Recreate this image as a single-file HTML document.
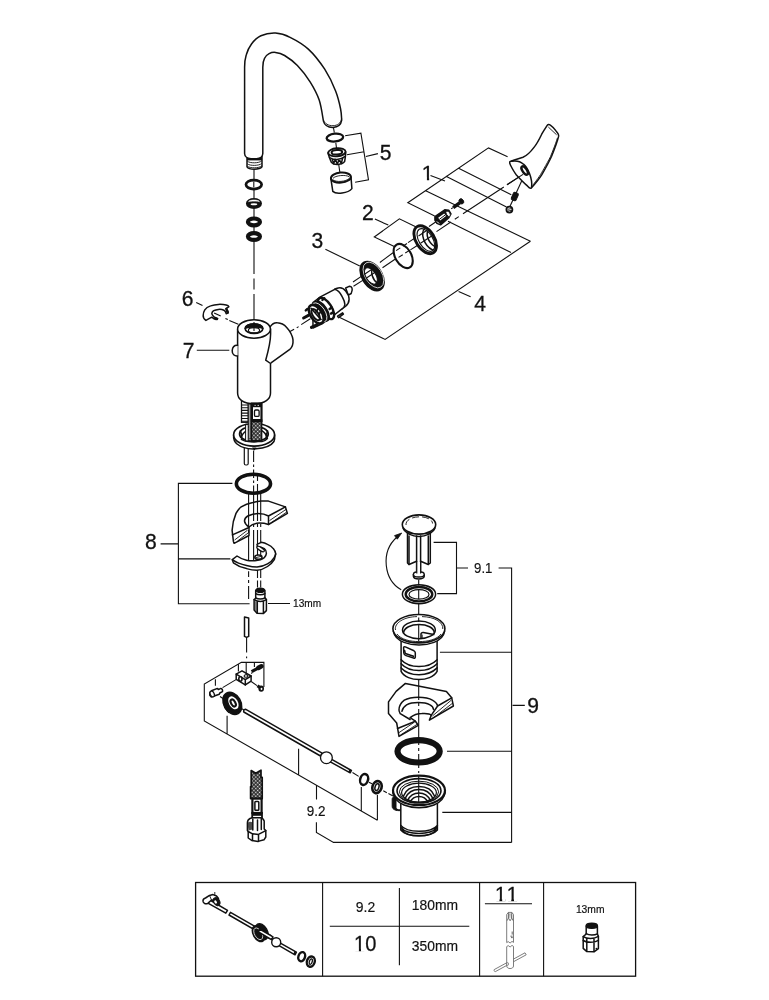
<!DOCTYPE html>
<html lang="en">
<head>
<meta charset="utf-8">
<title>Exploded view</title>
<style>
html,body{margin:0;padding:0;background:#fff;}
body{width:769px;height:1000px;overflow:hidden;position:relative;}
svg{position:absolute;left:0;top:0;display:block;will-change:transform;}
text{font-family:"Liberation Sans",sans-serif;fill:#111;}
text{stroke:#111;stroke-width:0.18px;}
text.big{stroke:#111;stroke-width:0.3px;}
.l{stroke:#111;stroke-width:1.1;fill:none;}
.p{stroke:#111;stroke-width:1.5;fill:#fff;stroke-linejoin:round;stroke-linecap:round;}
.pn{stroke:#111;stroke-width:1.5;fill:none;stroke-linejoin:round;stroke-linecap:round;}
.t{stroke:#111;stroke-width:0.9;fill:none;}
.k{fill:#111;stroke:#111;stroke-width:1;}
.ax{stroke:#111;stroke-width:1;fill:none;stroke-dasharray:26 3 3 3;}
</style>
</head>
<body>
<svg width="769" height="1000" viewBox="0 0 769 1000">
<defs>
<pattern id="braid" width="2.7" height="2.7" patternUnits="userSpaceOnUse" patternTransform="rotate(45)">
<rect width="2.7" height="2.7" fill="#111"/>
<rect x="0.6" y="0.6" width="1.55" height="1.55" fill="#fff"/>
</pattern>
</defs>

<!-- ===== LEADER LINES ===== -->
<g id="leaders" class="l">
<!-- 5 -->
<path d="M345.1 135.7L360.9 133.1L368.5 179.9L355.1 182.2M346.9 154.7L364.1 151.8M365.9 156.5L377.9 153.6"/>
<!-- 1 -->
<path d="M434.7 216.1L407.8 202.7L488.5 147.9L507.6 156.8M458.6 168.3L511.3 194.7M446 176.3L506.5 207M425.7 190.7L530.4 241.2M430.5 175.4L445 181"/>
<!-- 4 -->
<path d="M530.4 241.2L385.1 339.4L337.2 316.2M448 221.2L511 252.6M458.6 291.4L470.6 296.8"/>
<!-- 2 -->
<path d="M374.9 219.1L388.3 225.1M394.3 246.6L374.3 237L399.4 218.8L416.7 227.2"/>
<!-- 3 -->
<path d="M325.4 249.3L359.8 265.9"/>
<!-- 6,7 -->
<path d="M196.2 302.5L202.5 305.6"/>
<path d="M196.8 350.2H229.3"/>
<!-- 8 -->
<path d="M232.4 483.4H178.4V603.8H249.6M178.4 558.9H230.4M160.6 543.9H178.4M268 603.5H290"/>
<!-- 9.2 -->
<path d="M263.9 687V662.4H241.4L204.3 684.1V720.9L377.4 820.2M238.4 664.3V671.5M254.4 663V667M215.4 679.3V685.8M227.1 715.7V734M298.6 748.8V775M361.3 787V811M377.4 795V820.2M316.5 785.5V799.6M316.4 822.2V832.4L333.5 842.4H511.6"/>
<!-- 9 -->
<path d="M498.6 568H511.6V842.4M439.9 652.3H511.6M447 751.2H511.6M442.3 812.4H511.6M512.6 705.4H524.8"/>
<!-- 9.1 -->
<path d="M433.6 542.4H456.5V593.6H437.2M456.5 568H468"/>
</g>

<!-- ===== AXIS LINES ===== -->
<g id="axes">
<path class="l" d="M254 169.5V180M254 189.5V198M254 208.5V217M254 226.5V232M254 241.5V273.9M254 278.5V289.5M254 294V322"/>
<path class="l" d="M523 174.4L507 184.8M503.8 187L463 213.8M458.8 216.6L454.8 219.3M450.8 222L436.5 231.6M310.3 318.8L301.2 324.6M298.6 326.6L296.7 327.9M294.1 329.2L289.5 331.8"/>

<path class="l" d="M246.6 637.4V652.4M246.6 656.6V658.2"/>
</g>

<!-- ===== PARTS ===== -->
<g id="parts">

<!-- spout -->
<g id="spout">
<path class="p" stroke-width="1.8" d="M247 155V166.8C249 170 259.5 170 262 166.8V155Z"/>
<path class="t" stroke-width="1.7" d="M247.3 161.2C250 163.4 259 163.4 261.8 160.8M247.3 163.8C250 166 259 166 261.8 163.4M247.3 166.2C250 168.4 259 168.4 261.8 165.8"/>
<path d="M247 157H262V160.4H247Z" fill="#111"/>
<path class="p" d="M244.6 153.6V67.3C244.6 63.1 245.0 58.9 246.2 55.0C247.3 51.1 249.1 47.2 251.5 44.0C253.9 40.8 256.9 37.6 260.9 35.8C264.9 34.0 270.6 32.9 275.5 33.1C280.4 33.4 284.6 34.6 290.1 37.3C295.6 40.0 302.5 43.8 308.3 49.1C314.1 54.4 320.1 62.2 324.7 69.2C329.2 76.2 333.0 84.4 335.6 91.0C338.2 97.6 339.6 104.1 340.6 109.0C341.6 113.9 341.5 118.3 341.7 120.2C341 124.6 337.5 127.3 333 127.4C328 127.5 324.5 125 323.5 121.4C322.8 117.9 321.4 106.7 319.2 100.1C317.0 93.5 313.7 87.7 310.1 81.9C306.5 76.1 301.6 69.9 297.4 65.5C293.1 61.1 288.2 57.7 284.6 55.5C281.0 53.3 278.1 52.7 275.5 52.4C272.9 52.1 270.9 52.7 269.1 53.7C267.3 54.7 265.7 55.9 264.6 58.2C263.4 60.5 262.8 63.7 262.8 67.3V153.6C262.8 156.6 260 158.6 256.5 158.8H251C247.5 158.6 244.6 156.6 244.6 153.6Z"/>
<path class="t" stroke-width="1.1" d="M323.4 119.8C324.5 123.6 328.5 125.8 333 125.7C337.5 125.6 341 123 341.6 118.6"/>
</g>
<!-- spout rings -->
<g id="srings">
<ellipse cx="253.8" cy="184.55" rx="7.85" ry="4.5" fill="#fff" stroke="#111" stroke-width="2.7"/>
<ellipse cx="253.95" cy="203.45" rx="7.1" ry="4.5" fill="#111" stroke="#111" stroke-width="1.9"/>
<path d="M248.6 201.6C250 199.6 258 199.6 259.4 201.6C258 200.9 250 200.9 248.6 201.6Z" fill="#fff" stroke="#fff" stroke-width="0.7"/>
<ellipse cx="253.95" cy="204.2" rx="3.3" ry="1" fill="#fff"/>
<ellipse cx="253.95" cy="221.9" rx="6" ry="3.4" fill="#fff" stroke="#111" stroke-width="4.2"/>
<ellipse cx="253.95" cy="236.55" rx="6" ry="3.4" fill="#fff" stroke="#111" stroke-width="4.2"/>
<path class="l" d="M253.8 181.6V187.6"/>
</g>
<!-- aerator -->
<g id="aer">
<path class="l" d="M333.5 127.8L334.3 132.5M335.8 142.8L336.5 148M338.8 165L339.8 172"/>
<ellipse cx="334.9" cy="137.6" rx="8.3" ry="3.9" transform="rotate(-6 334.9 137.6)" fill="#fff" stroke="#111" stroke-width="2.3"/>
<path class="p" stroke-width="1.7" d="M328.1 152.4C328.1 155 330.6 160.4 331.3 162.2C334 165.6 342 164.9 344.6 161.6C345 159.4 345.8 155 345.7 152"/>
<ellipse cx="336.9" cy="152.3" rx="8.7" ry="4" transform="rotate(-5 336.9 152.3)" fill="#fff" stroke="#111" stroke-width="1.9"/>
<ellipse cx="336.9" cy="152.3" rx="5.3" ry="2.2" transform="rotate(-5 336.9 152.3)" fill="#fff" stroke="#111" stroke-width="2"/>
<path class="pn" stroke-width="1.3" d="M329.5 157.5C333 160.5 341 160 344.8 156.6M332 158.6L333.6 163.5L335.4 159.2L337.3 164.2L339.2 159.2L341.3 163.6L342.6 158.2"/>
<path class="p" stroke-width="1.6" d="M330.8 178.1L332.8 191.4C336 194.6 348 193.4 351.9 188.6L351 177"/>
<ellipse cx="340.9" cy="177.6" rx="10" ry="5" transform="rotate(-5 340.9 177.6)" fill="#fff" stroke="#111" stroke-width="2"/>
<path class="t" stroke-width="1" d="M333 178.4C335 175.4 346 174.4 349.2 176.8M332.6 179.6C336 182.6 346 181.8 349.6 178.2"/>
</g>


<!-- handle -->
<g id="handle">
<path class="l" d="M521.9 180.4L509.8 206.8"/>
<path class="p" stroke-width="1.6" d="M509.8 161.7C514 159.5 519 158.6 523 157.3C528 155.3 534 147.4 534 147.4C537.5 143 541.7 134.2 541.7 134.2C543.5 131 547.2 125.4 547.2 125.4C548 124.3 549.2 124.3 550 124.9C552.5 126.5 556 130.9 556 130.9C557.5 132.5 559 134.5 558.6 136.4C557 143 551.6 156.2 551.6 156.2C548.5 163 541.7 174.9 541.7 174.9C538.5 180 531.3 188.1 531.3 188.1C530 189 528.5 187.2 527.4 185.9C523.5 182.5 516.4 174.9 516.4 174.9C514 172 510.4 165 510.4 165C509.8 163.8 509.5 162.5 509.8 161.7Z"/>
<path class="pn" stroke-width="1.4" d="M511.5 161.3C516 160.5 520.5 161.5 523.5 164.2C527 167 529.6 173.8 529.6 173.8C531 177.5 532.2 182 531.6 187"/>
<path class="t" d="M548.3 127L556.6 134.8M557.4 138C555.5 144.5 550.3 157 550.3 157C547 163.5 540.5 174.6 540.5 174.6C537.5 179.3 532.5 185.5 532.5 185.5"/>
<ellipse cx="524.7" cy="170.5" rx="2.2" ry="4.9" transform="rotate(-33 524.7 170.5)" fill="#fff" stroke="#111" stroke-width="2.4"/>
<path class="l" d="M523 174.4L507 184.8"/>
<!-- set screw + cap -->
<rect x="512.2" y="192.4" width="5.2" height="8.2" rx="1.6" transform="rotate(24 514.8 196.5)" fill="#111" stroke="#111" stroke-width="1"/>
<circle cx="509.4" cy="209.6" r="3" fill="#fff" stroke="#111" stroke-width="1.8"/>
<path class="t" d="M507.6 209.3L511.4 208.6M507.9 211L511.6 210.4"/>
</g>
<!-- screw + nut -->
<g id="screwnut">
<path d="M453.2 207.7L460 202.6" stroke="#111" stroke-width="3.5" fill="none"/>
<ellipse cx="461.4" cy="201.3" rx="2.1" ry="2.8" transform="rotate(-35 461.4 201.3)" fill="#111" stroke="#111" stroke-width="0.8"/>
<path class="l" d="M451.2 208.8L453 207.6M436 221.7L429 226.5"/>
<path d="M434.9 216.5L444.7 209.8L448.9 210.3L451 213.9L448.9 217.6L440.6 224.9L436.9 223.3L434.9 220.2Z" fill="#111" stroke="#111" stroke-width="1.4" stroke-linejoin="round"/>
<path d="M438.2 217.7L444.2 213.4L446 216L440.2 220.4Z" fill="#fff"/>
<path d="M439.4 219.3L445.2 215" stroke="#111" stroke-width="1"/>
<ellipse cx="448.2" cy="213.8" rx="1.7" ry="3" transform="rotate(-33 448.2 213.8)" fill="#fff" stroke="#111" stroke-width="0.8"/>
<path d="M436.6 221.6L439.4 223.4" stroke="#fff" stroke-width="0.8"/>
</g>
<!-- rings 2 / oring / 3 -->
<g id="rings23">
<path class="l" d="M416.1 237.3L408 242.6M417.7 245.2L410.4 249.9M393 252.7L379.9 262.5M395 259.2L382.5 267.7M361.7 276.1L353 282M364.3 279.4L353.5 286.3"/>
<path class="l" stroke-dasharray="5 3" d="M407 243.5L394 252M409.5 250.4L396 259"/>
<!-- ring2 -->
<ellipse cx="425.2" cy="239.7" rx="9.2" ry="15.4" transform="rotate(-32 425.2 239.7)" fill="#fff" stroke="#111" stroke-width="2.9"/>
<ellipse cx="425.9" cy="240" rx="6.9" ry="12.6" transform="rotate(-32 425.9 240)" fill="none" stroke="#111" stroke-width="1.1"/>
<path class="pn" stroke-width="1.3" d="M424.5 228.8C420.5 233 423.5 245.5 432.5 250M428.4 230.2C425.6 233.5 427.8 242 434.6 246.4"/>
<path class="l" d="M418.5 236L427 230.3M420.5 243.3L434 234.5"/>
<!-- oring -->
<ellipse cx="403.2" cy="256" rx="8" ry="13.2" transform="rotate(-30 403.2 256)" fill="none" stroke="#111" stroke-width="2.1"/>
<!-- ring3 -->
<ellipse cx="372.1" cy="276.1" rx="10" ry="16" transform="rotate(-32 372.1 276.1)" fill="#111" stroke="#111" stroke-width="1.6"/>
<ellipse cx="373.4" cy="275" rx="8.4" ry="14.2" transform="rotate(-32 373.4 275)" fill="none" stroke="#fff" stroke-width="0.7"/>
<ellipse cx="370.9" cy="275.9" rx="5" ry="9.2" transform="rotate(-32 370.9 275.9)" fill="#fff" stroke="#111" stroke-width="1"/>
<path class="pn" stroke-width="1.2" d="M372.5 268.5C370.5 272 372.5 280 377.6 283.2"/>
<path class="l" d="M364.5 274.3L373.5 268.2M366.5 278L377 271"/>
</g>


<!-- cartridge -->
<g id="cart">
<path class="p" stroke-width="1.4" d="M345.7 288L349.1 286.3C351.6 286.2 353.6 288.6 351.2 293.5L348.3 295.2Z"/>
<path class="p" stroke-width="1.5" d="M334.7 289.3L336.4 288.5C340 287 343.5 288 345.7 291C347.8 293.6 349.2 296.5 349.1 299.4C349 302 347.6 304.6 345.7 306.2L342.3 308.7Z"/>
<path class="p" stroke-width="1.5" d="M312.9 302.5L320.4 296.9L334.7 289.3C338 290 340.6 293.4 342.3 296.9C343.8 299.6 344.9 302 344.9 304.5C344.6 306.4 343.6 307.8 342.3 308.7L331.1 317.5L322 323.8L313 328Z"/>
<path class="p" stroke-width="1.3" d="M337.6 316.2L342.6 312.8L343.4 314.2L338.6 317.6Z"/>
<ellipse cx="326" cy="308.4" rx="5.6" ry="12.2" transform="rotate(-33 326 308.4)" fill="#fff" stroke="#111" stroke-width="2.4"/>
<path d="M322.4 300L324.2 298.2M329.6 309L331.8 307.4M331 313.6L333 312.4" stroke="#111" stroke-width="2.4" stroke-linecap="round" fill="none"/>
<ellipse cx="321.4" cy="311.2" rx="5.8" ry="11.4" transform="rotate(-33 321.4 311.2)" fill="#111" stroke="#111" stroke-width="1.4"/>
<ellipse cx="319.4" cy="312.4" rx="5.6" ry="10.8" transform="rotate(-33 319.4 312.4)" fill="none" stroke="#fff" stroke-width="0.8"/>
<ellipse cx="316.2" cy="314.2" rx="5.8" ry="10.4" transform="rotate(-33 316.2 314.2)" fill="#fff" stroke="#111" stroke-width="2.6"/>
<ellipse cx="315.6" cy="314.6" rx="2.9" ry="6.4" transform="rotate(-33 315.6 314.6)" fill="#fff" stroke="#111" stroke-width="2"/>
<path d="M310.8 308L321.4 320M319 307L315.8 312.4M322 308.6L318.8 314.8" stroke="#111" stroke-width="1.7" fill="none"/>
<path d="M303.6 318L308.4 315.4M311.4 327.4L317.2 324.6" stroke="#111" stroke-width="3" stroke-linecap="round" fill="none"/>
<path d="M305.8 310.4L307.4 309" stroke="#111" stroke-width="2.4" stroke-linecap="round" fill="none"/>
</g>


<!-- clip 6 -->
<g id="clip">
<path class="p" stroke-width="2.1" d="M205.9 320.4C204 319 203 317 203.2 315.3C203.3 313 204 311 204.8 309.8C206 308 208.5 306.6 210.6 305.9C213 305 216 304.5 218.4 304.4C221 304.3 224 304.5 226.2 305C227.5 305.3 228.6 306 228.9 306.7L226.2 308.7C227.5 310 228.5 311.8 228.2 312.9L226.2 313.7C225.8 312 225 311 223.9 310.2C222 309.3 220 309.2 218.4 309.4C216.5 309.6 215 310 213.7 310.6C212.5 311.3 212 312.3 211.8 313.3C211.8 314.6 212.6 315.7 213.7 316.5C215 317.4 216.5 318 217.6 318.4L216.1 319.6C214.5 319.2 213 318.2 211.8 317.2Z"/>
<path d="M226.3 308.8L227.6 312.6M215 318.2L217 319" stroke="#111" stroke-width="2.4" stroke-linecap="round"/>
<path class="l" d="M214.1 312.9L220.7 316.1M225.4 318.4L227.8 319.6M229.3 320.4L238.3 324.3"/>
</g>
<!-- body 7 -->
<g id="body">
<!-- hoses under body -->
<rect x="241.5" y="400" width="6.6" height="22.3" fill="#fff" stroke="#111" stroke-width="1.3"/>
<path d="M241.5 405H248.1M241.5 407.7H248.1M241.5 410.4H248.1M241.5 413.1H248.1M241.5 415.8H248.1M241.5 418.5H248.1M241.5 421.2H248.1" stroke="#111" stroke-width="1.1"/>
<!-- branch -->
<path class="p" d="M270.3 326.7C272 324 275 322.6 277.4 322.8C281 323 284.5 325 286.7 327.4C290 331 292.5 335.5 293 339.9C293.3 344 292 347.5 289.8 349.3L270.3 363.3L262 352L266 330Z"/>
<!-- main cylinder -->
<path d="M237.6 329V393C237.6 399 243 403.6 254 403.6C265 403.6 270.6 399 270.6 393V329Z" fill="#fff" stroke="none"/>
<path class="pn" d="M270.6 329V334C270.6 341 268 352 265.7 360.2L270.5 363.5V393C270.6 399 265 403.6 254 403.6C243 403.6 237.6 399 237.6 393V329"/>
<!-- knob -->
<path class="p" d="M237.6 345.3C235 345.1 232.6 346.5 232.2 350.5C232 354.5 234.5 356.1 237.6 355.9"/>
<!-- top -->
<ellipse cx="254" cy="329" rx="16.4" ry="9.2" fill="#fff" stroke="#111" stroke-width="1.5"/>
<ellipse cx="254" cy="328.6" rx="8.9" ry="4.8" fill="#fff" stroke="#111" stroke-width="1.7"/>
<path d="M245.4 328.4C246.5 322.6 261.5 322.6 262.6 328.4C260 326.6 248 326.6 245.4 328.4Z" fill="#111" stroke="#111" stroke-width="1.6" stroke-linejoin="round"/>
<ellipse cx="254" cy="330.2" rx="5.6" ry="2.6" fill="none" stroke="#111" stroke-width="1.1"/>
<path class="l" d="M254 322V331"/>
</g>


<!-- base ring -->
<g id="basering">
<rect x="244.3" y="440" width="3.9" height="25" rx="1.5" fill="#fff" stroke="#111" stroke-width="1.2"/>
<path class="p" d="M233.6 435C233.4 438 234 441.5 237 444C242 448 250 449.2 256 448.8C263 448.4 271 446 274 441.5C275 439.5 274.8 437 274.6 435"/>
<path d="M252 447.5L254.3 450.4L256.6 447.5Z" fill="#111"/>
<ellipse cx="254.1" cy="434.8" rx="20.5" ry="11.3" fill="#fff" stroke="#111" stroke-width="1.7"/>
<ellipse cx="253.9" cy="433.9" rx="14.3" ry="7.6" fill="#fff" stroke="#111" stroke-width="1.8"/>
<path class="pn" stroke-width="1.3" d="M241.2 437.6C243 431 250 428.6 254 428.6C259 428.6 265.5 431 266.8 437.4"/>
<path class="pn" stroke-width="1" d="M240.3 431C241.5 433 242 436 241.6 438M267.6 431C266.5 433 266 436 266.4 438"/>
<!-- things passing through -->
<rect x="245.6" y="424.6" width="2.6" height="16.6" fill="#fff" stroke="#111" stroke-width="1"/>
<rect x="248.9" y="404" width="1.9" height="35" fill="#fff" stroke="#111" stroke-width="1"/>
<rect x="251.5" y="420" width="10.2" height="20.6" fill="url(#braid)" stroke="#111" stroke-width="1.3"/>
<rect x="251.9" y="403.6" width="9.6" height="17.6" fill="#fff" stroke="#111" stroke-width="2.2"/>
<rect x="251.5" y="403.6" width="10.4" height="3.6" fill="#111"/>
<rect x="251.5" y="419" width="10.4" height="2.2" fill="#111"/>
<rect x="254.5" y="410" width="4.6" height="6.4" rx="1.2" fill="#fff" stroke="#111" stroke-width="1.3"/>
<path d="M254.6 405.4H255.6M257.6 405.4H258.8" stroke="#fff" stroke-width="1"/>
<path class="pn" stroke-width="1.8" d="M241.4 439.4C246 442.4 251 441.8 262 441.4C264 441.2 266 440 267.4 438.4"/>
</g>
<!-- group 8 -->
<g id="g8">
<ellipse cx="253.45" cy="483.7" rx="17.1" ry="9.5" fill="none" stroke="#111" stroke-width="3.6"/>
<!-- sink cutaway -->
<path class="p" stroke-width="1" d="M233.4 541.4L232.1 530.3C232.5 524 234 518 236 513.4C237.5 510.5 239 508.5 241.2 506.9C244.5 504.8 249 503.2 252.9 502.4C256 501.6 259 501.2 261.4 501.1H268.5L285.4 506.9L287.4 513.4L268.5 524.5C264 523 260 523 256.8 523.2C253.5 523.8 251 525 249 527L249 535.5L234.1 543.3Z"/>
<path class="pn" stroke-width="1.2" d="M268.5 524.5V516C266 514.5 262 513.4 258.1 513.4C254 513.4 250.5 514.5 247.7 516C245.5 517.3 244.4 519 244.5 521.2C244.8 523.5 246.8 525.6 249 527M268.5 516L285.4 506.9M232.4 534.9L248.4 527.7"/>
<path class="t" stroke-width="1.1" d="M269.5 520.6L286 509.4M271.5 522.6L286.8 512M234.6 540L247.5 530.2M237.5 541L248.6 532.6"/>
<!-- vertical projection lines -->
<path class="l" d="M253.6 450.5V462M253.6 464.5V467M253.6 469.5V478M253.6 480.5V483M253.6 485.5V521M253.6 524V527M253.6 530V561"/>
<path class="l" d="M248.6 493.5V527M248.6 530V533M248.6 536V561M248.6 571.2V577M248.6 580V583M248.6 586V599"/>
<path class="l" d="M257.5 476V481M257.5 484V521M257.5 524V527M257.5 530V572M257.5 572V578M257.5 580.5V587.5"/>
<path class="l" d="M260.7 493.5V521M260.7 524V527M260.7 530V572M260.7 572V578M260.7 580.5V587.5"/>
<!-- C washer -->
<path class="p" d="M237 556L232.3 559.7L233.4 562.8C237 565.5 241 567.5 246.5 568.6C250 569.6 254 570.2 257 570.2C261 570 264.5 568.5 267.5 566.5C270.5 564.5 273 562 274.3 559.7L275.7 553.9C275.5 552 274.5 550 273.3 548.6C272 546.8 270 545.4 267.5 544.4C265.5 543.3 263.5 542.7 261.2 542.3L257 544.4L257.5 546.5C260 547 262.5 547.6 264.3 548.6C265.8 549.8 266.6 551.5 266.4 553.4C266.2 555 265.5 556.5 264.3 557.6C262 559.4 258.5 560.4 254.9 560.7C252 561 249 560.8 246.5 560.2C243 559.4 239.5 557.8 237 556Z"/>
<path class="pn" stroke-width="1.2" d="M232.3 559.7C236 562.5 241 564.4 246.5 565.4C250 566.3 254 567 257 567C261 566.8 264.5 565.6 267.5 563.9C270.5 562.2 272.8 560 273.8 558.1C275 556.5 275.6 555 275.7 553.9"/>
<ellipse cx="260.6" cy="549" rx="4.3" ry="1.6" transform="rotate(32 260.6 549)" fill="#fff" stroke="#111" stroke-width="1.3"/>
<ellipse cx="258.4" cy="557.2" rx="3.6" ry="2.1" fill="#fff" stroke="#111" stroke-width="1.5"/>
<path class="t" stroke-width="1.2" d="M255.8 557.6L261 556.4"/>
<!-- nut 13mm -->
<path class="p" d="M255.7 590.3V598.2L254.1 599.6V610L257 613.2L263.5 613.4L266.4 610.6V599.6L264.9 597.8V590.3Z"/>
<ellipse cx="260.3" cy="590.2" rx="4.1" ry="2.1" fill="#111" stroke="#111" stroke-width="1.4"/>
<path class="pn" stroke-width="1.1" d="M254.1 599.6C258 601.8 263 601.7 266.4 599.6M257.3 601.2V612.8M263.4 601.2V613M255.7 597.8C258 599.4 262.5 599.4 264.9 597.8M255.7 593.6C258 595.2 262.5 595.2 264.9 593.6"/>
<path d="M254.6 601V609.6L256.8 612.4V601.6Z" fill="#111" opacity="0.55"/>
<!-- small rod -->
<path class="p" stroke-width="1.1" d="M244.5 616.9L248.7 618V636.4L246.6 637.4L244.5 636.4Z"/>
</g>


<!-- pop-up rod group 9.2 -->
<g id="g92">
<!-- clamp block -->
<path class="l" d="M236 679.6L222.6 687.6M251.2 673.5L252.2 672.8M251.2 681.5L257 685.6"/>
<path class="p" stroke-width="1.8" d="M236.2 674.1L242 670.8L251.1 676V681.2L245.3 684.9L236.2 679.3Z"/>
<path class="pn" stroke-width="1.2" d="M236.2 674.1L245.3 679.6L251.1 676M245.3 679.6V684.9"/>
<ellipse cx="240.4" cy="679" rx="1.6" ry="2.2" fill="#fff" stroke="#111" stroke-width="1.6"/>
<ellipse cx="246" cy="676" rx="1.9" ry="1.3" fill="#fff" stroke="#111" stroke-width="1.1"/>
<path class="l" d="M246.2 662.4V675"/>
<!-- screws -->
<path d="M251.6 671.6L259 667.6" stroke="#111" stroke-width="3.2" fill="none"/>
<path d="M258.4 667.9L261.4 666.3" stroke="#111" stroke-width="4.6" fill="none" stroke-linecap="round"/>
<ellipse cx="261.2" cy="688.6" rx="2.1" ry="2.5" fill="#111" stroke="#111" stroke-width="1.4"/>
<ellipse cx="261.5" cy="688.9" rx="0.9" ry="1.1" fill="#fff"/>
<path d="M257.4 685.8L260 687.6" stroke="#111" stroke-width="3"/>
<!-- pin -->
<path class="p" stroke-width="1.5" d="M211.3 697L209.8 695.2V692.6L211.5 690.8L217.4 688.4L218.4 689.6L220.8 688.4C222 688.4 222.8 690 222.5 691.6L219.8 693L219.3 694.2Z"/>
<ellipse cx="212.2" cy="694" rx="2" ry="3" transform="rotate(-25 212.2 694)" fill="#fff" stroke="#111" stroke-width="1.3"/>
<path class="l" d="M220 696.5L223 698.5"/>
<!-- knurled nut -->
<ellipse cx="232.3" cy="703.3" rx="8.6" ry="11.8" transform="rotate(-30 232.3 703.3)" fill="#111" stroke="#111" stroke-width="1.4"/>
<ellipse cx="233.4" cy="702.8" rx="4.5" ry="7" transform="rotate(-30 233.4 702.8)" fill="#fff"/>
<ellipse cx="233.2" cy="703" rx="2.1" ry="3.8" transform="rotate(-30 233.2 703)" fill="#fff" stroke="#111" stroke-width="2.1"/>
<path class="t" stroke="#fff" stroke-width="0.6" d="M224 700C223 704 225 710 229 713"/>
<!-- rod -->
<path class="l" d="M241.5 708.6L244.3 710.2"/>
<path class="p" stroke-width="1" d="M245.4 709.2L322.1 753.2L320.5 756L243.8 712C243.3 710.6 244 709.5 245.4 709.2Z"/>
<path class="p" stroke-width="1" d="M330.8 758.8L351.4 770.5L350.2 772.8L329.4 761.4Z"/>
<path d="M350.4 769.8L349 772.4" stroke="#111" stroke-width="2"/>
<circle cx="326.4" cy="757.7" r="5.9" fill="#fff" stroke="#111" stroke-width="1.3"/>
<path class="l" d="M352.5 772.5L358.7 776.4M368.9 782.2L372 783.8M383.3 790.8L386.8 792.8M388.4 793.5L393 795.9"/>
<ellipse cx="364.1" cy="779.5" rx="3.9" ry="5.5" transform="rotate(17 364.1 779.5)" fill="#fff" stroke="#111" stroke-width="2.5"/>
<ellipse cx="377" cy="787.1" rx="4.6" ry="6.1" transform="rotate(17 377 787.1)" fill="#fff" stroke="#111" stroke-width="2.6"/>
<ellipse cx="377" cy="787.1" rx="1.9" ry="3.5" transform="rotate(17 377 787.1)" fill="#fff" stroke="#111" stroke-width="1.5"/>
</g>


<!-- drain group 9 -->
<g id="g9">
<!-- plug -->
<path class="p" stroke-width="1.3" d="M407.5 533V563L409 564.5L416.6 561.2V572H420.6V561.2L428.3 564.5L430.3 563V533Z"/>
<path class="pn" stroke-width="1.1" d="M409 536V564.5M416.6 536V561.5M420.6 536V561.5M428.3 536V564.5"/>
<path class="p" stroke-width="1.4" d="M413.4 574.5V576.4C414 579.8 423.5 579.8 424.2 576.4V574.5"/>
<ellipse cx="418.8" cy="574.4" rx="5.4" ry="2.6" fill="#fff" stroke="#111" stroke-width="1.4"/>
<rect x="416.8" y="562" width="3.8" height="11.6" fill="#fff" stroke="none"/>
<path class="l" stroke-width="1.2" d="M416.8 562V573.4M420.6 562V573.4"/>
<path class="pn" stroke-width="1.2" d="M403 528C405 533 412 536.4 419 536.4C426 536.4 433 533 435 528"/>
<ellipse cx="419" cy="524.5" rx="16.7" ry="9.6" fill="#fff" stroke="#111" stroke-width="1.6"/>
<path class="t" stroke-width="0.8" stroke-dasharray="7 3" d="M406 525C405.5 520 412 517 419 516.8C426 516.6 432.5 519.5 432.6 523.5"/>
<!-- seal -->
<ellipse cx="419" cy="594.2" rx="16.6" ry="9.5" fill="#fff" stroke="#111" stroke-width="1.5"/>
<ellipse cx="419" cy="594.2" rx="13.3" ry="7.2" fill="#fff" stroke="#111" stroke-width="2.4"/>
<ellipse cx="419" cy="594.4" rx="10" ry="4.8" fill="#fff" stroke="#111" stroke-width="1.2"/>
<!-- arrow -->
<path class="l" d="M401.2 589.8C384 580 380 552 397 537"/>
<path d="M401.7 533L394.5 535.6L397.3 539.2Z" fill="#111" stroke="#111" stroke-width="0.8"/>
<!-- flange tube -->
<path class="p" d="M401.1 636V671.4C404 677 412 679.6 419 679.6C426 679.6 434 677 437.1 671.4V636Z"/>
<path class="pn" stroke-width="1.1" d="M401.1 659.7C406 665 413 666.5 419 666.5C425 666.5 432 665 437.1 659.7M401.1 663.8C406 669 413 670.6 419 670.6C425 670.6 432 669 437.1 663.8M401.1 667.9C406 673 413 674.7 419 674.7C425 674.7 432 673 437.1 667.9"/>
<path class="p" stroke-width="1.4" d="M403.6 648C403.4 646.8 404.2 646.4 405.3 646.9L414 650.8C415 651.3 415.3 652 415.3 653V657C415.3 658 414.6 658.4 413.6 658L406 655.6C404.8 655.2 403.9 654.3 403.8 653Z"/>
<path class="pn" stroke-width="1.1" d="M404.6 650.5L405.3 653.5L413.5 656.3"/>
<path class="p" d="M393.4 631C394 636 398 640 404 642.4C409 644.3 414 645 419 645C424 645 429 644.3 434 642.4C440 640 444 636 444.6 631Z"/>
<ellipse cx="418.9" cy="628.7" rx="26" ry="14.2" fill="#fff" stroke="#111" stroke-width="1.6"/>
<path class="t" stroke-width="0.8" d="M395.5 630C394 623 404 616.8 417 616.6M422 616.6C434 616.8 443.5 622 442.8 629M397 634C401 639.5 410 641.6 419 641.6C428 641.6 437 639.5 441 634"/>
<ellipse cx="418.9" cy="629.9" rx="16.4" ry="8.8" fill="#fff" stroke="#111" stroke-width="1.5"/>
<path class="pn" stroke-width="1.2" d="M403.5 633C404 627.5 411 624.6 419 624.6C427 624.6 434 627.5 434.4 633"/>
<path class="pn" stroke-width="1.3" d="M421 638.6V633.9C421 633 422 632.4 423.3 632.6L433.8 634.5"/>
<path class="t" d="M422.2 638.6V634.6"/>
<!-- sink cutaway 2 -->
<path class="p" stroke-width="1" d="M405.4 683.4L446.4 691.4L451.7 697.8L453.4 706L429.4 720.1L431.2 715.4C430 713.5 425 713.4 421.8 713.6C418 713.6 414 714.6 410.1 717.7L415.4 721.2L418.3 725.3L399 736.4L396.7 723L388.5 713.6V701.9L396.1 691.4Z"/>
<path class="pn" stroke-width="1.2" d="M410.1 719.5L400.2 713.6C399 711.5 398.8 710 399 708.9C399.5 705 401.5 702.4 404.3 700.2C408 698 413 697.2 418.3 697.2C424 697.2 429 698 432.4 700.2C435.5 702 437.2 704 437.6 706L431.2 715.4M437.6 706L451.7 697.8M397.5 728.5L415.4 721.2"/>
<path class="pn" stroke-width="1.1" d="M401.9 711.3C402.5 708.5 404 706.4 406.6 704.8C410 703 414 702.5 418.3 702.5C423 702.5 427 703.2 430 704.8C432.2 706 433.4 707.8 433.5 709.5"/>
<path class="t" stroke-width="1.1" d="M432.4 716L451 700.4M433.5 717.8L452.8 703M399 732.6L414 722.4M400.5 735L417 724.4"/>
<!-- big oring -->
<ellipse cx="418.6" cy="751.3" rx="21.1" ry="11.2" fill="none" stroke="#111" stroke-width="6.2"/>
<!-- drain cup -->
<path d="M400.8 796.4C396 795.6 392.2 796.5 392.2 799V806.5C392.2 809.5 396 811 400.8 810.6Z" fill="#111" stroke="#111" stroke-width="1"/>
<path d="M396.5 800C398 799.6 400 800 400.8 800.6V809C399 809.6 397 809 396.5 808Z" fill="#fff"/>
<path class="p" d="M400.8 798V825.4V830C404 834 412 835.8 419 835.8C426 835.8 434 834 437.4 830V798Z"/>
<path class="pn" stroke-width="1.7" d="M400.8 825.4C404 829.4 412 831.2 419 831.2C426 831.2 434 829.4 437.4 825.4M401.2 827.8C404.5 831.8 412 833.5 419 833.5C426 833.5 433.5 831.8 437 827.8M401.6 830C405 834 412 835.8 419 835.8C426 835.8 433 834 436.6 830"/>
<path class="p" stroke-width="1.4" d="M392.8 792C393.5 798 398 802.5 404 805C409 807 414 807.8 419 807.8C424 807.8 429 807 434 805C440 802.5 444.5 798 445.2 792Z"/>
<ellipse cx="419" cy="790.4" rx="26" ry="14.8" fill="#fff" stroke="#111" stroke-width="2.2"/>
<ellipse cx="419" cy="790.8" rx="22" ry="12.2" fill="none" stroke="#111" stroke-width="1.6"/>
<ellipse cx="419" cy="791.8" rx="19.6" ry="10.6" fill="none" stroke="#111" stroke-width="1"/>
<ellipse cx="419" cy="792.6" rx="17.4" ry="9.4" fill="none" stroke="#111" stroke-width="1.2"/>
<path class="pn" stroke-width="1" d="M403.5 796C406 789 412 786.4 419 786.4C426 786.4 432 789 434.5 796M405 798.6C408 792 413 789.6 419 789.6C425 789.6 430 792 433 798.6M407.5 800.6C410 795.4 414 793 419 793C424 793 428 795.4 430.6 800.6M410 802C412 798 415 796.4 419 796.4C423 796.4 426 798 428 802"/>
</g>


<!-- hose bottom -->
<g id="hose">
<path d="M251.2 770.6L255.8 773.2L261 770.2V777.4H262.2V798.6H250.6V786.6H251.2Z" fill="url(#braid)" stroke="#111" stroke-width="1.7" stroke-linejoin="round"/>
<rect x="252.4" y="798.6" width="9.2" height="14.4" fill="#fff" stroke="#111" stroke-width="2.2"/>
<rect x="254.9" y="801.4" width="3.9" height="8.8" rx="0.8" fill="#fff" stroke="#111" stroke-width="1.5"/>
<path d="M252.2 813H262V818H252.2Z" fill="#fff" stroke="#111" stroke-width="1.8"/>
<path d="M252.2 814.8H262" stroke="#111" stroke-width="2"/>
<path class="p" stroke-width="2" d="M250 818.5C248 819.5 247.4 821 247.4 823V830.6L248.2 831.5V838L252 840.6L258 841.4L264 839.8L265.8 837V830.6L264.2 829V821C263.5 819 262 818 260 817.8H252.2Z"/>
<path class="pn" stroke-width="1.6" d="M248.2 831.5L252.5 833.8L258.5 834.4L265.8 830.6M252.5 833.8V840.6M258.5 834.4V841.4M252.8 819V830M257.5 820V830.5M261.3 819V829.6"/>
<path d="M247.6 823C249 821.4 251 821.4 252.6 822.6V829.6L248.4 830.6Z" fill="#111" opacity="0.75"/>
</g>
<!-- drain axis -->
<path class="l" d="M418.7 579.8V585.5M418.7 589.5V599M418.7 604V615M418.7 617.5V622M418.7 624.5V641M418.7 679.6V700M418.7 703V706M418.7 709V745M418.7 748V751M418.7 754V768M418.7 771V773M418.7 776V803"/>
</g>

<!-- ===== TABLE ===== -->
<g id="table">
<rect x="195.6" y="882.5" width="440" height="93.7" fill="none" stroke="#111" stroke-width="1.3"/>
<path class="l" d="M322.6 882.5V976.2M479.6 882.5V976.2M543.6 882.5V976.2" stroke-width="1.2"/>
<path class="l" d="M399.4 888.1V965.3M329.8 926.2H469.3M484.9 903.8H532"/>
</g>



<!-- table pics -->
<g id="tpics">
<!-- rod assembly -->
<path class="p" stroke-width="1.2" d="M209 899.5L227.5 910.4L225.8 913.2L207 902.6Z"/>
<path class="p" stroke-width="1.2" d="M230.5 912.3L271 935.6L269.5 938.4L229 915Z"/>
<path class="p" stroke-width="1.2" d="M279.5 942.6L296.4 952.2L295 954.8L278.2 945.2Z"/>
<path d="M295.4 951.4L294 954.2" stroke="#111" stroke-width="1.6"/>
<!-- clamp -->
<path class="p" stroke-width="1.5" d="M203.2 902C202.6 900 203.6 898.6 205.5 898L209.5 895.4L213 894.6L216.5 896L218.5 898.5L216 901L211.5 900L207.8 903.4C206 904.4 204 903.6 203.2 902Z"/>
<ellipse cx="216.6" cy="901.6" rx="3" ry="4.2" transform="rotate(-30 216.6 901.6)" fill="#111" stroke="#111"/>
<ellipse cx="215.6" cy="902" rx="1.2" ry="1.8" transform="rotate(-30 215.6 902)" fill="#fff"/>
<path class="t" d="M214.8 892V896M209.5 895.4L211.5 900"/>
<!-- knurled nut -->
<ellipse cx="261.8" cy="931.6" rx="5.4" ry="8.6" transform="rotate(-30 261.8 931.6)" fill="#111" stroke="#111" stroke-width="1.4"/>
<ellipse cx="258.6" cy="933.6" rx="5.4" ry="8.6" transform="rotate(-30 258.6 933.6)" fill="#111" stroke="#111" stroke-width="1.4"/>
<ellipse cx="258.2" cy="933.8" rx="3.6" ry="6.4" transform="rotate(-30 258.2 933.8)" fill="none" stroke="#fff" stroke-width="0.7"/>
<path class="p" stroke-width="1.2" d="M259.6 929.2L273 936.8L271.5 939.6L258.4 932Z"/>
<circle cx="276.2" cy="942.2" r="4.5" fill="#fff" stroke="#111" stroke-width="1.4"/>
<ellipse cx="301.7" cy="956.7" rx="3.3" ry="4.7" transform="rotate(17 301.7 956.7)" fill="#fff" stroke="#111" stroke-width="2.4"/>
<ellipse cx="310.8" cy="961.6" rx="3.9" ry="5.2" transform="rotate(17 310.8 961.6)" fill="#fff" stroke="#111" stroke-width="2.4"/>
<ellipse cx="310.8" cy="961.6" rx="1.4" ry="2.8" transform="rotate(17 310.8 961.6)" fill="#fff" stroke="#111" stroke-width="1.3"/>
<!-- tool 11 -->
<g stroke="#666" stroke-width="0.85" fill="#fff" stroke-linejoin="round">
<path d="M494.2 969.6L525 952.8L526.2 954.8L495.4 971.6C494.4 971.8 493.8 970.6 494.2 969.6Z"/>
<path d="M506.7 914.5L508.4 912.4H511.8L513.5 914.5V942.4L512 941.4L510.1 943L508.2 941.6L506.7 942.6Z"/>
<path d="M506.7 946.6L508.2 945.6L510.1 947L512 945.4L513.5 946.4V966C513.5 969.4 506.7 969.4 506.7 966Z"/>
<path d="M508.4 912.4V918L507.2 920.6M511.8 912.4V918L513 920.6M509.2 913.4L508.8 918.6L510.1 920.8L511.4 918.6L511 913.4" fill="none" stroke-width="0.8" stroke="#555"/>
<path d="M510.4 936.2H512.6M511 937.6H512.8M512.2 931.5V934.6" fill="none" stroke-width="0.9" stroke="#555"/>
<ellipse cx="507.6" cy="964" rx="0.9" ry="1.5" fill="#fff" stroke-width="0.7"/>
</g>
<!-- nut 13mm -->
<path class="p" stroke-width="1.4" d="M586.2 926V934L583.2 936.6V948.4L586.6 951.4L594 951.8L598.4 948.6V936.4L597.4 934V926Z"/>
<ellipse cx="591.8" cy="925.8" rx="5.6" ry="2.6" fill="#111" stroke="#111" stroke-width="1.4"/>
<path class="pn" stroke-width="1.1" d="M583.2 936.6C587 939 594 939 598.4 936.4M586.8 938.4V951.2M594 938.4V951.6M586.2 933.6C589 935.4 594.5 935.4 597.4 933.8M583.2 940.5C587 943 594 943 598.4 940.4"/>
<circle cx="596.4" cy="948.6" r="0.9" fill="#111"/>
</g>

<!-- ===== TEXT ===== -->
<g id="labels">
<text class="big" transform="translate(379.7 159.9) scale(0.98 1)" font-size="21.5">5</text>
<text class="big" transform="translate(421.8 179.6) scale(1 1)" font-size="21">1</text>
<path d="M422.2 177.6H426.9V180.9H422.2ZM429.15 177.6H433.2V180.9H429.15Z" fill="#fff"/>
<text class="big" transform="translate(362 219.5) scale(0.98 1)" font-size="21.5">2</text>
<text class="big" transform="translate(311.4 248.3) scale(0.98 1)" font-size="21.5">3</text>
<text class="big" transform="translate(474.3 311.4) scale(0.98 1)" font-size="21.5">4</text>
<text class="big" transform="translate(181.7 305.8) scale(0.98 1)" font-size="21.5">6</text>
<text class="big" transform="translate(182.7 357.5) scale(0.98 1)" font-size="21.5">7</text>
<text class="big" transform="translate(145.1 549.2) scale(0.98 1)" font-size="21.5">8</text>
<text class="big" transform="translate(527.2 713.4) scale(0.98 1)" font-size="21.5">9</text>
<text transform="translate(474.1 572.8) scale(0.88 1)" font-size="15">9.1</text>
<text transform="translate(306.8 816.3) scale(0.9 1)" font-size="15">9.2</text>
<text transform="translate(293.1 606.9) scale(1.01 1)" font-size="10">13mm</text>
<text transform="translate(355.8 912) scale(0.93 1)" font-size="15">9.2</text>
<text class="big" transform="translate(354.05 950.8) scale(0.91 1)" font-size="22">10</text>
<path d="M354.6 948.7H358.9V951.8H354.6ZM361.0 948.7H365V951.8H361.0Z" fill="#fff"/>
<text transform="translate(411.8 909.8) scale(0.925 1)" font-size="15">180mm</text>
<text transform="translate(411.8 951.3) scale(0.925 1)" font-size="15">350mm</text>
<text class="big" transform="translate(495 901)" x="0 11.8" font-size="20">11</text>
<path d="M496 899.1H499.45V901.5H496ZM502.2 899.1H505.6V901.5H502.2ZM507.8 899.1H511.25V901.5H507.8ZM514 899.1H517.4V901.5H514Z" fill="#fff"/>
<text transform="translate(575.9 913.3) scale(1.03 1)" font-size="10">13mm</text>
</g>
</svg>
</body>
</html>
